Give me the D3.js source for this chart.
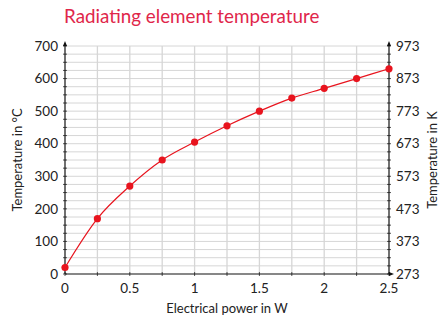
<!DOCTYPE html>
<html>
<head>
<meta charset="utf-8">
<script src="https://cdn.jsdelivr.net/npm/d3@7"></script>
<style>
  body { margin: 0; background: #fff; }
  svg { font-family: "Lato", "Open Sans", sans-serif; }
</style>
</head>
<body>
<div id="chart"></div>
<script>
// datos del gráfico
const power = [0, 0.25, 0.5, 0.75, 1, 1.25, 1.5, 1.75, 2, 2.25, 2.5];
const tempC = [20, 170, 270, 350, 405, 455, 500, 540, 570, 600, 630];
const xTicks = [0, 0.5, 1, 1.5, 2, 2.5];
const yTicksC = [0, 100, 200, 300, 400, 500, 600, 700];
const yTicksK = [273, 373, 473, 573, 673, 773, 873, 973];

const width = 440, height = 317;
const margin = {top: 46, right: 51, bottom: 43, left: 65};
const w = width - margin.left - margin.right;
const h = height - margin.top - margin.bottom;

const svg = d3.select("#chart").append("svg")
    .attr("width", width)
    .attr("height", height);

svg.append("text")
    .attr("x", 64)
    .attr("y", 23)
    .attr("fill", "#e0264a")
    .style("font-size", "18.8px")
    .text("Radiating element temperature");

const g = svg.append("g")
    .attr("transform", "translate(" + margin.left + "," + margin.top + ")");

const x = d3.scaleLinear().domain([0, 2.5]).range([0, w]);
const y = d3.scaleLinear().domain([0, 700]).range([h, 0]);
const yK = d3.scaleLinear().domain([273, 973]).range([h, 0]);

// rejilla
g.selectAll(".hgrid")
    .data(d3.range(25, 701, 25))
    .enter().append("line")
    .attr("x1", 0).attr("x2", w)
    .attr("y1", d => y(d)).attr("y2", d => y(d))
    .attr("stroke", "#d6d6d6").attr("stroke-width", 1);

g.selectAll(".vgrid")
    .data(d3.range(0.25, 2.5, 0.25))
    .enter().append("line")
    .attr("x1", d => x(d)).attr("x2", d => x(d))
    .attr("y1", 0).attr("y2", h)
    .attr("stroke", "#d6d6d6").attr("stroke-width", 1.3);

// ticks pequeños
g.selectAll(".lt")
    .data(d3.range(0, 701, 25))
    .enter().append("line")
    .attr("x1", -2).attr("x2", 2)
    .attr("y1", d => y(d)).attr("y2", d => y(d))
    .attr("stroke", "#555");
g.selectAll(".rt")
    .data(d3.range(0, 701, 25))
    .enter().append("line")
    .attr("x1", w - 2).attr("x2", w + 2)
    .attr("y1", d => y(d)).attr("y2", d => y(d))
    .attr("stroke", "#555");
g.selectAll(".bt")
    .data(d3.range(0, 2.51, 0.25))
    .enter().append("line")
    .attr("x1", d => x(d)).attr("x2", d => x(d))
    .attr("y1", h - 2).attr("y2", h + 2)
    .attr("stroke", "#555");

// ejes
const axisColor = "#111";
g.append("line").attr("x1", 0).attr("x2", 0).attr("y1", h).attr("y2", -2)
    .attr("stroke", axisColor).attr("stroke-width", 1.2);
g.append("line").attr("x1", w).attr("x2", w).attr("y1", h).attr("y2", -2)
    .attr("stroke", axisColor).attr("stroke-width", 1.2);
g.append("line").attr("x1", 0).attr("x2", w + 2).attr("y1", h).attr("y2", h)
    .attr("stroke", axisColor).attr("stroke-width", 1.2);

// flechas
function arrow(px, py, dir) {
    const p = dir === "up"
        ? [[px, py - 4], [px - 2, py + 1], [px + 2, py + 1]]
        : [[px + 4, py], [px - 1, py - 2], [px - 1, py + 2]];
    g.append("path").attr("d", "M" + p.map(d => d.join(",")).join("L") + "Z")
        .attr("fill", axisColor);
}
arrow(0, -1, "up");
arrow(w, -1, "up");
arrow(w + 1, h, "right");

// etiquetas
const labelSize = "13.5px";
g.selectAll(".yl")
    .data(yTicksC)
    .enter().append("text")
    .attr("x", -7).attr("y", d => y(d))
    .attr("dy", "0.35em")
    .attr("text-anchor", "end")
    .attr("fill", "#222")
    .style("font-size", labelSize)
    .text(d => d);

g.selectAll(".yr")
    .data(yTicksK)
    .enter().append("text")
    .attr("x", w + 7).attr("y", d => yK(d))
    .attr("dy", "0.35em")
    .attr("fill", "#222")
    .style("font-size", labelSize)
    .text(d => d);

g.selectAll(".xl")
    .data(xTicks)
    .enter().append("text")
    .attr("x", d => x(d)).attr("y", h + 19)
    .attr("text-anchor", "middle")
    .attr("fill", "#222")
    .style("font-size", labelSize)
    .text(d => d);

g.append("text")
    .attr("x", w / 2).attr("y", h + 39)
    .attr("text-anchor", "middle")
    .attr("fill", "#222")
    .style("font-size", "13px")
    .text("Electrical power in W");

g.append("text")
    .attr("transform", "translate(-43," + (h / 2) + ") rotate(-90)")
    .attr("text-anchor", "middle")
    .attr("fill", "#222")
    .style("font-size", "13px")
    .text("Temperature in °C");

g.append("text")
    .attr("transform", "translate(" + (w + 48) + "," + (h / 2) + ") rotate(-90)")
    .attr("text-anchor", "middle")
    .attr("fill", "#222")
    .style("font-size", "13px")
    .text("Temperature in K");

// curva
const pts = power.map((p, i) => [p, tempC[i]]);
const line = d3.line()
    .x(d => x(d[0]))
    .y(d => y(d[1]))
    .curve(d3.curveMonotoneX);

g.append("path")
    .datum(pts)
    .attr("d", line)
    .attr("fill", "none")
    .attr("stroke", "#e8141e")
    .attr("stroke-width", 1.2);

g.selectAll(".dot")
    .data(pts)
    .enter().append("circle")
    .attr("cx", d => x(d[0]))
    .attr("cy", d => y(d[1]))
    .attr("r", 3.6)
    .attr("fill", "#e8141e");
</script>
</body>
</html>
